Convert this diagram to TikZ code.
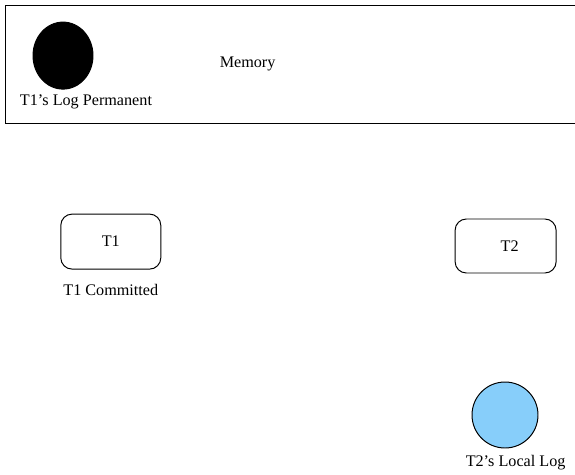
\documentclass[tikz,border=0pt]{standalone}
\usepackage{fontspec}
\setmainfont{Liberation Serif}
\definecolor{loglight}{RGB}{135, 206, 250}
\usetikzlibrary{shapes, positioning}

\begin{document}
\begin{tikzpicture}[font=\fontsize{11.5}{13}\selectfont, line width=0.7pt]
  \useasboundingbox (0, 0) rectangle (14.375, 11.85);
  \clip (0, 0) rectangle (14.375, 11.85);

  % Memory area
  \node[draw, rectangle, minimum width=14.6cm, minimum height=2.95cm, inner sep=0pt] (memory) at (7.425, 10.25) {};
  \node (memlabel) at (6.19, 10.25) {Memory};
  \node[draw, fill=black, ellipse, minimum width=1.5cm, minimum height=1.675cm, inner sep=0pt] (t1log) at (1.575, 10.46) {};
  \node (t1loglabel) at (2.15, 9.31) {T1's Log Permanent};

  % Transactions
  \node[draw, rounded corners=8pt, minimum width=2.5cm, minimum height=1.375cm] (t1) at (2.77, 5.81) {T1};
  \node (t1label) at (2.77, 4.6) {T1 Committed};

  \node[draw, rounded corners=8pt, minimum width=2.525cm, minimum height=1.35cm] (t2) at (12.64, 5.7) {\hspace{0.2cm}T2};

  % Local log of T2
  \node[draw, fill=loglight, circle, minimum size=1.65cm, inner sep=0pt] (t2log) at (12.625, 1.475) {};
  \node (t2loglabel) at (12.89, 0.29) {T2's Local Log};
\end{tikzpicture}
\end{document}
